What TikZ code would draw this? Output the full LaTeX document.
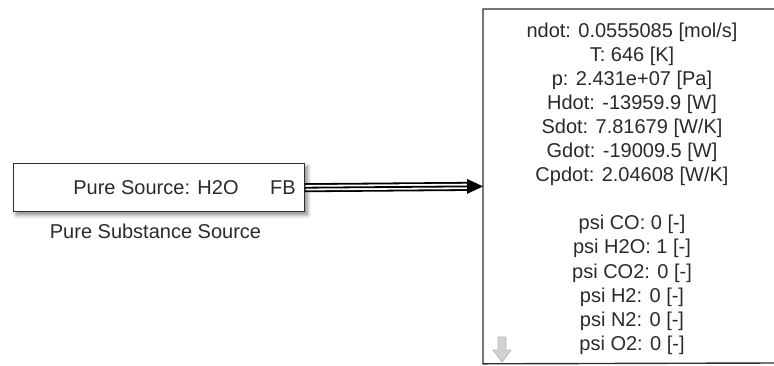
\documentclass[tikz,border=0pt]{standalone}
\usepackage{fontspec}
\setmainfont{Liberation Sans}
\usetikzlibrary{shadows.blur}
\definecolor{txt}{HTML}{2A2A2A}
\definecolor{edge}{HTML}{303030}
\begin{document}
\begin{tikzpicture}[x=0.5pt,y=-0.5pt,
  lbl/.style={font=\fontsize{10}{12.05}\selectfont, text=txt, inner sep=0pt},
  blockbox/.style={draw=edge, line width=0.7pt, fill=white, inner sep=0pt},
  edgeline/.style={draw=edge, line width=0.7pt, line cap=butt},
  busline/.style={line cap=butt}]
\useasboundingbox (0,0) rectangle (774,365);
% source block
\node[blockbox, minimum width=145.5pt, minimum height=24pt, anchor=north west,
  blur shadow={shadow xshift=1.5pt, shadow yshift=-1.5pt, shadow blur steps=6, shadow opacity=50}]
  (src) at (12.5,163) {};
\node[lbl] (srctext) at (156,188) {Pure Source: H2O};
\node[lbl] (fb) at (283,188) {FB};
\node[lbl] (srcname) at (155.5,231) {Pure Substance Source};
% sink block (extends past the right edge)
\node[inner sep=0pt, minimum width=20pt, minimum height=177pt, anchor=north west] (sink) at (483,9) {};
\coordinate (topend) at (774,9);
\coordinate (botend) at (774,363);
\draw[edgeline] (topend) -- (sink.north west) -- (sink.south west) -- (botend);
\node[lbl, align=center] (vals) at (632,188.5) {ndot: 0.0555085 [mol/s]\\
T: 646 [K]\\
p: 2.431e+07 [Pa]\\
Hdot: -13959.9 [W]\\
Sdot: 7.81679 [W/K]\\
Gdot: -19009.5 [W]\\
Cpdot: 2.04608 [W/K]\\
~\\
psi CO: 0 [-]\\
psi H2O: 1 [-]\\
psi CO2: 0 [-]\\
psi H2: 0 [-]\\
psi N2: 0 [-]\\
psi O2: 0 [-]};
% connector (bus)
\coordinate (tipstart) at ([xshift=-8pt]sink.west);
\draw[busline, line width=4.5pt, black] (src.east) -- (tipstart);
\draw[busline, line width=2.7pt, white] ([xshift=0.3pt]src.east) -- (tipstart);
\draw[busline, line width=0.9pt, black] (src.east) -- (tipstart);
\fill[black] (sink.west) -- ++(-16,-7.5) -- ++(0,15) -- cycle;
% gray down arrow
\filldraw[fill=gray!35, draw=gray!55, line width=0.4pt]
  (498,337) -- (506,337) -- (506,350) -- (511,350) -- (502,362) -- (493,350) -- (498,350) -- cycle;
\end{tikzpicture}
\end{document}
